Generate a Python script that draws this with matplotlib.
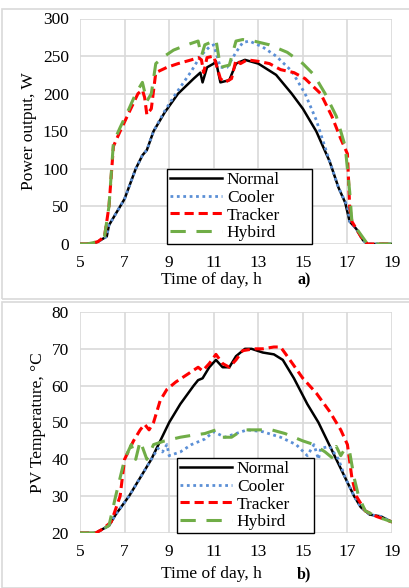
import matplotlib.pyplot as plt
from matplotlib.patches import Rectangle

plt.rcParams['font.family'] = ['Liberation Serif', 'DejaVu Serif']

# ---- panel a: power output, W ----
pa_normal_t = [5, 5.5, 5.8, 6.2, 6.3, 6.6, 7.0, 7.5, 7.8, 8.0, 8.3, 8.8, 9.4, 10.1, 10.4, 10.5,
               10.7, 11.0, 11.1, 11.3, 11.7, 12.0, 12.4, 13.0, 13.8, 14.5, 15.0, 15.6, 16.2,
               16.6, 16.9, 17.1, 17.4, 17.7, 17.9, 19]
pa_normal = [0, 0, 3, 10, 25, 40, 60, 100, 118, 125, 150, 175, 200, 220, 228, 215,
             235, 240, 243, 215, 218, 240, 245, 240, 225, 200, 180, 150, 110,
             75, 55, 30, 20, 5, 0, 0]

pa_cooler_t = [5, 5.5, 5.8, 6.2, 6.3, 6.6, 7.0, 7.5, 7.8, 8.0, 8.3, 8.8, 9.3, 10.0, 10.4, 10.8,
               11.0, 11.3, 11.6, 12.0, 12.3, 12.6, 13.2, 13.8, 14.5, 15.1, 15.6, 16.2, 16.6,
               17.0, 17.1, 17.4, 17.7, 17.9, 19]
pa_cooler = [0, 0, 3, 10, 25, 40, 60, 100, 118, 125, 150, 177, 200, 230, 250, 262,
             265, 235, 235, 255, 268, 270, 262, 250, 230, 200, 165, 110, 75,
             50, 30, 20, 5, 0, 0]

pa_tracker_t = [5, 5.3, 5.8, 6.1, 6.3, 6.5, 6.8, 7.2, 7.6, 7.8, 7.9, 8.0, 8.2, 8.4, 8.9, 9.4,
                10.0, 10.3, 10.45, 10.55, 10.7, 11.0, 11.3, 11.5, 11.8, 12.0, 12.2, 12.5,
                13.0, 13.5, 14.0, 14.6, 15.1, 15.8, 16.3, 16.7, 17.0, 17.1, 17.2, 17.6, 17.9, 19]
pa_tracker = [0, 0, 3, 10, 50, 130, 150, 175, 200, 205, 195, 172, 180, 228, 235, 240,
              245, 248, 245, 228, 248, 250, 220, 215, 220, 245, 240, 245,
              243, 240, 232, 228, 220, 200, 170, 140, 120, 50, 30, 10, 0, 0]

pa_hybird_t = [5, 5.3, 5.8, 6.1, 6.3, 6.5, 6.8, 7.2, 7.5, 7.8, 8.0, 8.2, 8.4, 8.8, 9.2, 9.8,
               10.3, 10.45, 10.6, 11.0, 11.1, 11.3, 11.7, 12.0, 12.3, 12.8, 13.5, 14.3,
               15.0, 15.5, 16.0, 16.5, 16.9, 17.1, 17.2, 17.3, 17.9, 19]
pa_hybird = [0, 0, 3, 10, 50, 135, 155, 180, 200, 215, 190, 200, 240, 250, 258, 265,
             270, 250, 265, 270, 272, 235, 238, 270, 272, 270, 265, 255,
             240, 225, 200, 170, 130, 70, 30, 25, 0, 0]

# ---- panel b: PV temperature, C ----
pb_normal_t = [5, 5.7, 6.0, 6.3, 6.6, 7.2, 7.7, 8.2, 8.6, 9.0, 9.5, 10.1, 10.3, 10.5, 10.8,
               11.1, 11.4, 11.7, 12.0, 12.4, 12.7, 13.2, 13.7, 14.1, 14.6, 15.2, 15.7, 16.1,
               16.5, 16.9, 17.3, 17.6, 18.0, 18.5, 19]
pb_normal = [20, 20, 21, 22, 25, 30, 35, 40, 45, 50, 55, 60, 61.5, 62, 65,
             67, 65, 65, 68, 70, 70, 69, 68.5, 67, 62, 55, 50, 45,
             40, 35, 30, 27, 25, 24.5, 23]

pb_cooler_t = [5, 5.7, 6.0, 6.3, 6.6, 7.2, 7.7, 8.2, 8.5, 8.7, 8.9, 9.0, 9.5, 10.0, 10.6,
               11.0, 11.5, 12.0, 12.5, 13.2, 14.0, 14.7, 15.2, 15.5, 15.7, 15.8, 16.2, 16.6,
               16.9, 17.3, 17.6, 18.0, 18.5, 19]
pb_cooler = [20, 20, 21, 22, 25, 30, 35, 40, 43, 42, 44, 41, 42, 44, 45.5,
             47.5, 46, 47, 48, 47.5, 46, 44, 41, 44, 40, 43, 43.5, 40,
             35, 30, 27, 25, 24.5, 23]

pb_tracker_t = [5, 5.7, 6.0, 6.4, 6.8, 7.0, 7.4, 7.7, 7.9, 8.1, 8.3, 8.6, 8.9, 9.3, 9.8,
                10.3, 10.5, 10.8, 11.1, 11.4, 11.7, 12.0, 12.3, 12.8, 13.2, 13.7, 14.0,
                14.3, 15.0, 15.6, 16.2, 16.7, 17.0, 17.2, 17.4, 17.8, 18.3, 19]
pb_tracker = [20, 20, 21, 23, 30, 40, 45, 48, 49.5, 48, 50, 56, 59, 61, 63,
              65, 64, 66, 68.5, 66, 65, 67, 69.5, 70, 70, 70.5, 70.5,
              68, 62, 58, 53, 48, 44, 35, 30, 26, 24.5, 23]

pb_hybird_t = [5, 5.7, 6.0, 6.3, 6.6, 7.0, 7.3, 7.5, 7.7, 8.0, 8.3, 8.8, 9.5, 10.0, 10.6,
               11.1, 11.4, 11.8, 12.3, 13.0, 13.6, 14.2, 15.0, 15.5, 16.0, 16.3, 16.5,
               16.7, 16.9, 17.1, 17.3, 17.5, 17.8, 18.3, 19]
pb_hybird = [20, 20, 21, 22, 30, 40, 44, 40, 45, 40, 44, 45, 46, 46.5, 47,
             48, 46, 46, 48, 48, 48, 47, 45, 44, 42, 40.5, 43.5,
             41, 43, 42, 35, 30, 26, 24.5, 23]

labels = ["Normal", "Cooler", "Tracker", "Hybird"]
FS = 12.5
grid_c = "#d9d9d9"

fig = plt.figure(figsize=(4.09, 5.88), dpi=100)
W, H = 409.0, 588.0

# outer panel frames
for (y0, y1) in [(9, 299), (302, 588)]:
    fig.patches.append(Rectangle((2 / W, 1 - y1 / H), 1.2, (y1 - y0) / H,
                                 transform=fig.transFigure, fill=False,
                                 edgecolor=grid_c, lw=1.2))


def make_ax(top, bottom):
    return fig.add_axes([80 / W, 1 - bottom / H, (392 - 80) / W, (bottom - top) / H])


def style(ax, ylim, yticks, ylabel):
    ax.set_xlim(5, 19)
    ax.set_ylim(*ylim)
    ax.set_xticks(range(5, 20, 2))
    ax.set_yticks(yticks)
    ax.grid(True, color=grid_c, lw=1.2)
    ax.set_axisbelow(True)
    for s in ax.spines.values():
        s.set_visible(False)
    ax.tick_params(length=0, labelsize=FS, pad=8)
    ax.set_ylabel(ylabel, fontsize=FS, labelpad=4)


def draw(ax, series):
    (nt, n), (ct, c), (tt, t), (ht, h) = series
    ax.plot(nt, n, color="black", lw=1.8, label=labels[0])
    ax.plot(ct, c, color="#5b8fd6", lw=2.0, ls=(0, (1, 1.3)), label=labels[1])
    ax.plot(tt, t, color="#ff0000", lw=2.2, ls=(0, (3, 1.6)), label=labels[2])
    ax.plot(ht, h, color="#70ad47", lw=2.2, ls=(0, (5, 3.5)), label=labels[3])


ax1 = make_ax(18.5, 244)
style(ax1, (0, 300), range(0, 301, 50), "Power output, W")
draw(ax1, [(pa_normal_t, pa_normal), (pa_cooler_t, pa_cooler),
           (pa_tracker_t, pa_tracker), (pa_hybird_t, pa_hybird)])
leg1 = ax1.legend(loc="lower left", bbox_to_anchor=((167 - 80) / 312, 0.0, 0.465, 0.36),
                  mode="expand", fontsize=FS, frameon=True, fancybox=False,
                  edgecolor="black", framealpha=1, handlelength=3.0,
                  borderpad=0.15, labelspacing=0.1, handletextpad=0.3, borderaxespad=0)
leg1.get_frame().set_linewidth(1.0)
for txt in leg1.get_texts():
    txt.set_ha("left")

ax2 = make_ax(312, 533)
style(ax2, (20, 80), range(20, 81, 10), "PV Temperature, \u00b0C")
draw(ax2, [(pb_normal_t, pb_normal), (pb_cooler_t, pb_cooler),
           (pb_tracker_t, pb_tracker), (pb_hybird_t, pb_hybird)])
leg2 = ax2.legend(loc="lower left", bbox_to_anchor=((177 - 80) / 312, 0.0, 0.44, 0.365),
                  mode="expand", fontsize=FS, frameon=True, fancybox=False,
                  edgecolor="black", framealpha=1, handlelength=3.0,
                  borderpad=0.15, labelspacing=0.1, handletextpad=0.3, borderaxespad=0)
leg2.get_frame().set_linewidth(1.0)

# x labels with panel tags
for y_px, tag in [(284, "a)"), (578, "b)")]:
    fig.text(211 / W, 1 - y_px / H, "Time of day, h", ha="center", va="baseline", fontsize=FS)
    fig.text(297 / W, 1 - y_px / H, tag, ha="left", va="baseline", fontsize=FS - 1,
             fontweight="bold")

fig.savefig("out.png", dpi=100)
